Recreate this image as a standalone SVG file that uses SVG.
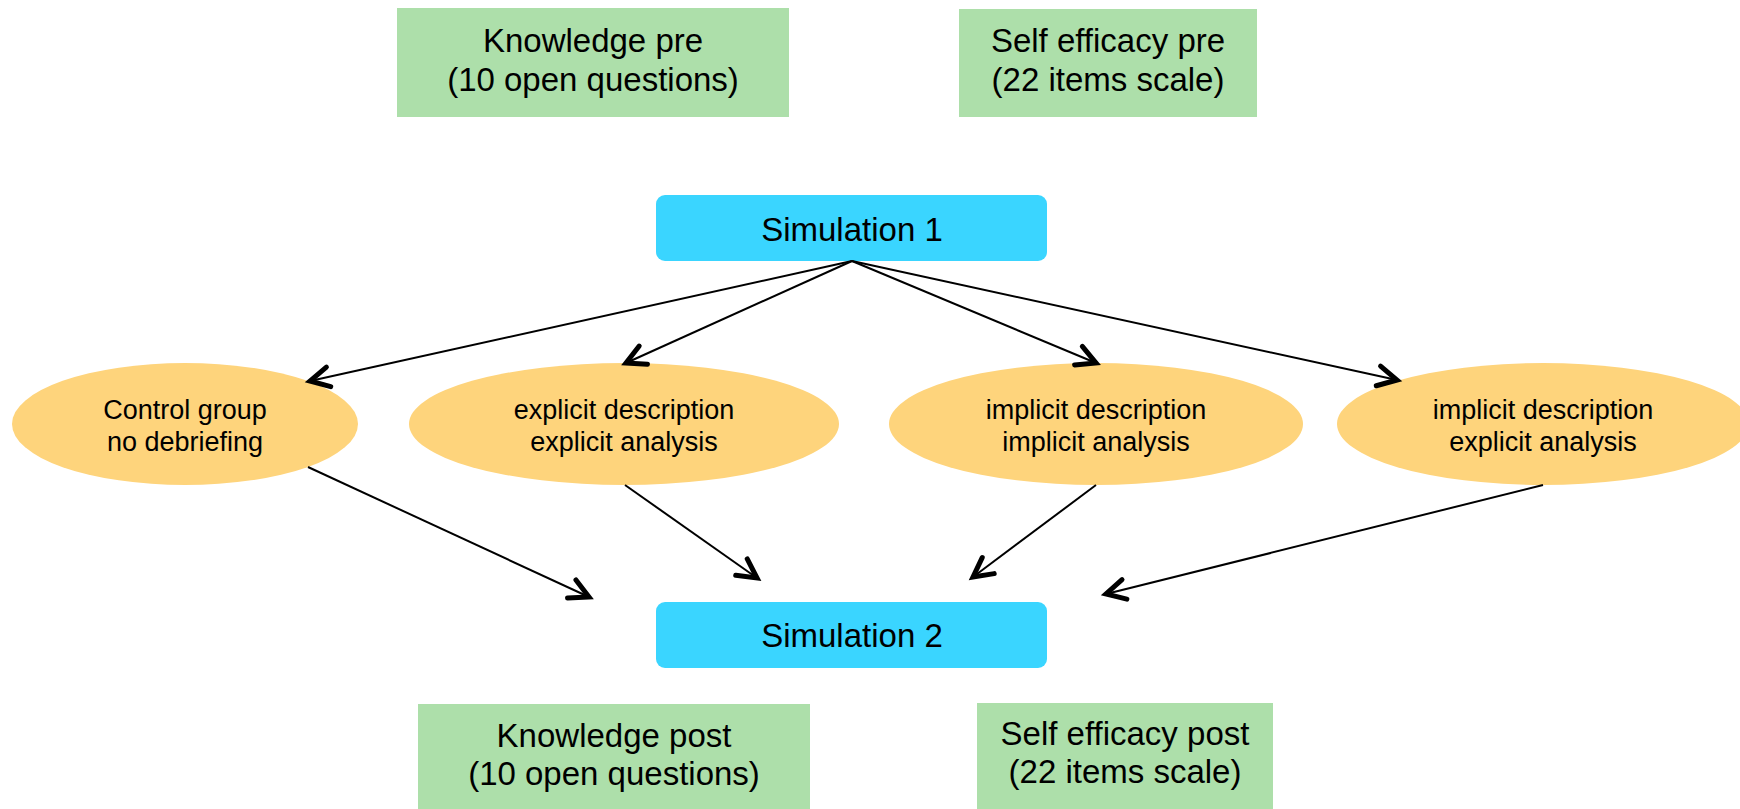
<svg xmlns="http://www.w3.org/2000/svg" width="1740" height="809" viewBox="0 0 1740 809">
<style>
.box{fill:#addfaa}
.sim{fill:#3ad5ff}
.ell{fill:#fed47c}
text{font-family:"Liberation Sans",Arial,sans-serif;fill:#000;text-anchor:middle}
.t1{font-size:33px}
.t2{font-size:27px}
.edge{stroke:#000;stroke-width:2;fill:none;marker-end:url(#arr)}
</style>
<defs>
<marker id="arr" markerUnits="userSpaceOnUse" viewBox="-26 -16 32 32" refX="0" refY="0" markerWidth="32" markerHeight="32" orient="auto">
<path d="M -19 -10 L 0 0 L -19 10" fill="none" stroke="#000" stroke-width="5" stroke-linecap="round" stroke-linejoin="miter"/>
</marker>
</defs>
<rect width="1740" height="809" fill="#fff"/>
<g id="knowledge-pre">
<rect class="box" x="397" y="8" width="392" height="109"/>
<text class="t1" x="593" y="52">Knowledge pre</text>
<text class="t1" x="593" y="90.5">(10 open questions)</text>
</g>
<g id="self-efficacy-pre">
<rect class="box" x="959" y="9" width="298" height="108"/>
<text class="t1" x="1108" y="52">Self efficacy pre</text>
<text class="t1" x="1108" y="91">(22 items scale)</text>
</g>
<g id="simulation-1">
<rect class="sim" x="656" y="195" width="391" height="66" rx="9"/>
<text class="t1" x="852" y="241">Simulation 1</text>
</g>
<g id="control-group">
<ellipse class="ell" cx="185" cy="424" rx="173" ry="61"/>
<text class="t2" x="185" y="419">Control group</text>
<text class="t2" x="185" y="451">no debriefing</text>
</g>
<g id="explicit-explicit">
<ellipse class="ell" cx="624" cy="424" rx="215" ry="61"/>
<text class="t2" x="624" y="419">explicit description</text>
<text class="t2" x="624" y="451">explicit analysis</text>
</g>
<g id="implicit-implicit">
<ellipse class="ell" cx="1096" cy="424" rx="207" ry="61"/>
<text class="t2" x="1096" y="419">implicit description</text>
<text class="t2" x="1096" y="451">implicit analysis</text>
</g>
<g id="implicit-explicit">
<ellipse class="ell" cx="1543" cy="424" rx="206" ry="61"/>
<text class="t2" x="1543" y="419">implicit description</text>
<text class="t2" x="1543" y="451">explicit analysis</text>
</g>
<g id="simulation-2">
<rect class="sim" x="656" y="602" width="391" height="66" rx="9"/>
<text class="t1" x="852" y="647">Simulation 2</text>
</g>
<g id="knowledge-post">
<rect class="box" x="418" y="704" width="392" height="105"/>
<text class="t1" x="614" y="747">Knowledge post</text>
<text class="t1" x="614" y="785">(10 open questions)</text>
</g>
<g id="self-efficacy-post">
<rect class="box" x="977" y="703" width="296" height="106"/>
<text class="t1" x="1125" y="745">Self efficacy post</text>
<text class="t1" x="1125" y="783">(22 items scale)</text>
</g>
<g id="connectors">
<line class="edge" x1="852" y1="261" x2="310" y2="381"/>
<line class="edge" x1="852" y1="261" x2="626" y2="363"/>
<line class="edge" x1="852" y1="261" x2="1096" y2="363"/>
<line class="edge" x1="852" y1="261" x2="1397" y2="380"/>
<line class="edge" x1="308" y1="467" x2="589" y2="597"/>
<line class="edge" x1="625" y1="485" x2="757" y2="578"/>
<line class="edge" x1="1096" y1="485" x2="973" y2="577"/>
<line class="edge" x1="1543" y1="485" x2="1106" y2="594"/>
</g>
</svg>
